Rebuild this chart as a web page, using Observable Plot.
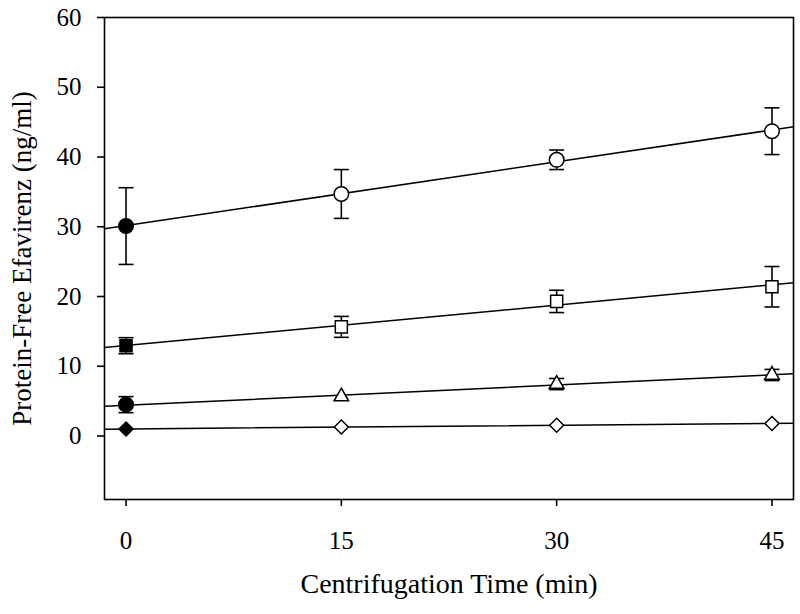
<!DOCTYPE html>
<html>
<head>
<meta charset="utf-8">
<script src="https://cdn.jsdelivr.net/npm/d3@7"></script>
<script src="https://cdn.jsdelivr.net/npm/@observablehq/plot@0.6"></script>
<style>
  html, body { margin: 0; padding: 0; background: white; }
</style>
</head>
<body>
<div id="chart"></div>
<script>
// ---- data ----
const times = [0, 15, 30, 45];               // centrifugation time (min)
const seriesNames = ["S1", "S2", "S3", "S4"];
const meanS1 = [30.1, 34.7, 39.6, 43.7];
const errS1  = [5.5, 3.5, 1.4, 3.35];
const meanS2 = [12.95, 15.65, 19.3, 21.4];
const errS2  = [1.15, 1.5, 1.6, 2.9];
const meanS3 = [4.5, 5.65, 7.45, 8.75];
const errS3  = [1.15, null, 0.8, 0.8];
const meanS4 = [1.0, 1.3, 1.55, 1.8];
const errS4  = [null, null, null, null];
const xTicks = [0, 15, 30, 45];
const yTicks = [0, 10, 20, 30, 40, 50, 60];

const means = [meanS1, meanS2, meanS3, meanS4];
const errs = [errS1, errS2, errS3, errS4];

// ---- styling ----
const xDomain = [-1.5, 46.5];
const yDomain = [-9.1, 60];
const firstSymbol = ["circle", "square", "circle", "diamond2"];
const restSymbol = ["circle", "square", "triangle", "diamond2"];
const symR = {circle: 7.3, square: 6.8, triangle: 5.4, diamond2: 6.3};

// ---- build rows ----
const rows = [];
seriesNames.forEach((s, k) => {
  times.forEach((t, i) => {
    const v = means[k][i], e = errs[k][i];
    rows.push({series: s, t, v, e, filled: i === 0,
      symbol: i === 0 ? firstSymbol[k] : restSymbol[k]});
  });
});
const errRows = rows.filter(d => d.e != null).map(d => ({...d, lo: d.v - d.e, hi: d.v + d.e}));
const capRows = errRows.flatMap(d => [{t: d.t, y: d.lo}, {t: d.t, y: d.hi}]);

// least-squares regression line per series, drawn across the frame
const fitRows = [];
seriesNames.forEach((s, k) => {
  const ys = means[k];
  const mx = d3.mean(times), my = d3.mean(ys);
  const sxy = d3.sum(times, (t, i) => (t - mx) * (ys[i] - my));
  const sxx = d3.sum(times, t => (t - mx) ** 2);
  const b = sxy / sxx, a = my - b * mx;
  xDomain.forEach(x => fitRows.push({series: s, t: x, v: a + b * x}));
});

const capSymbol = {
  draw(context, size) {
    const w = Math.sqrt(size / Math.PI);
    context.moveTo(-w, 0);
    context.lineTo(w, 0);
  }
};

const dotMarks = [];
for (const sym of ["circle", "square", "triangle", "diamond2"]) {
  for (const filled of [true, false]) {
    const data = rows.filter(d => d.symbol === sym && d.filled === filled);
    if (!data.length) continue;
    dotMarks.push(Plot.dot(data, {
      x: "t", y: "v", symbol: () => sym, r: symR[sym],
      fill: filled ? "black" : "white", stroke: "black", strokeWidth: 1.5
    }));
  }
}

const chart = Plot.plot({
  width: 800,
  height: 614,
  marginLeft: 104,
  marginRight: 7,
  marginTop: 17,
  marginBottom: 115,
  x: {domain: xDomain},
  y: {domain: yDomain},
  symbol: {type: "identity"},
  style: {fontFamily: "'Liberation Serif', 'Times New Roman', serif", fontSize: "25px", background: "white", color: "black"},
  marks: [
    Plot.axisY({ticks: yTicks, tickSize: 7, tickPadding: 16, label: null, strokeWidth: 1.6, fontSize: 25}),
    Plot.axisX({ticks: xTicks, tickSize: 7, tickPadding: 25, label: null, strokeWidth: 1.6, fontSize: 25}),
    Plot.line(fitRows, {x: "t", y: "v", z: "series", stroke: "black", strokeWidth: 1.5}),
    Plot.ruleX(errRows, {x: "t", y1: "lo", y2: "hi", stroke: "black", strokeWidth: 1.6}),
    Plot.dot(capRows, {x: "t", y: "y", symbol: () => capSymbol, r: 7.5, stroke: "black", strokeWidth: 1.6, fill: "none"}),
    ...dotMarks,
    Plot.frame({stroke: "black", strokeWidth: 1.6}),
    Plot.text(["Centrifugation Time (min)"], {frameAnchor: "bottom", dy: 93, text: d => d, fontSize: 28, textAnchor: "middle"}),
    Plot.text(["Protein-Free Efavirenz (ng/ml)"], {frameAnchor: "left", dx: -82, rotate: -90, text: d => d, fontSize: 27, textAnchor: "middle"})
  ]
});
document.getElementById("chart").appendChild(chart);
</script>
</body>
</html>
